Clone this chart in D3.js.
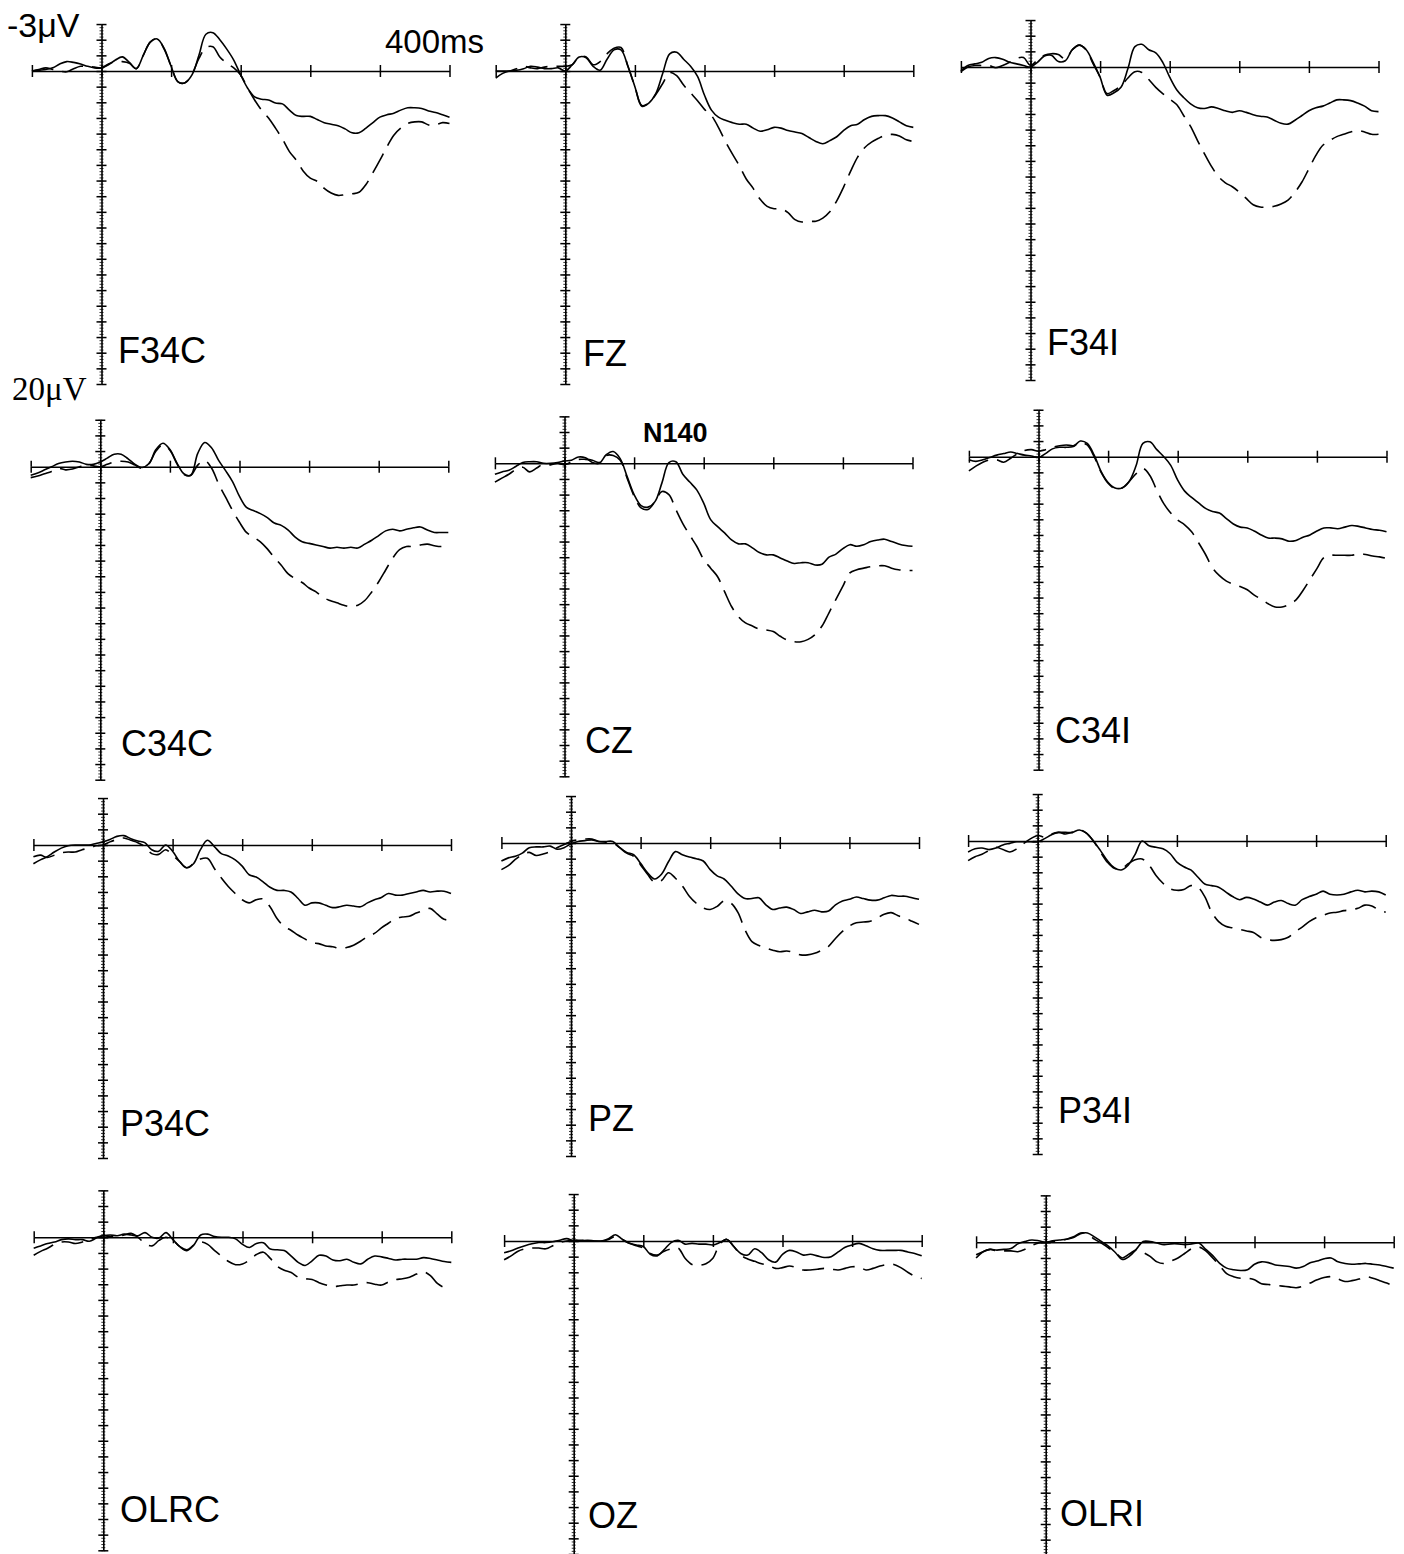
<!DOCTYPE html>
<html><head><meta charset="utf-8">
<script src="https://cdn.jsdelivr.net/npm/d3@7"></script>
<style>body{margin:0;background:#fff} svg{display:block}</style>
</head><body>
<svg id="c" width="1404" height="1554"></svg>
<script>
// ---- data ----
const times = d3.range(-100, 501, 10); // ms
const channels = ["F34C","FZ","F34I","C34C","CZ","C34I","P34C","PZ","P34I","OLRC","OZ","OLRI"];
const xTickValues = [-100, 0, 100, 200, 300, 400, 500];
const yDomain = [-3, 20]; // µV, negative up

const F34C_solid = [0,-0.05,-0.1,-0.2,-0.45,-0.6,-0.55,-0.45,-0.3,-0.2,-0.2,-0.4,-0.7,-0.9,-0.55,-0.15,-1.0,-1.85,-2.05,-1.45,-0.3,0.7,0.75,0.25,-1.0,-2.35,-2.45,-2.0,-1.4,-0.7,0.25,1.1,1.65,1.8,1.85,2.05,2.1,2.5,2.85,2.9,2.9,3.1,3.3,3.4,3.5,3.7,3.95,3.95,3.65,3.3,2.95,2.8,2.7,2.5,2.35,2.35,2.4,2.55,2.65,2.8,2.95];
const F34C_dashed = [0,-0.1,-0.2,-0.1,0,0.05,-0.15,-0.3,-0.3,-0.25,-0.2,-0.45,-0.6,-0.6,-0.5,-0.15,-1.0,-1.85,-2.05,-1.4,-0.3,0.7,0.75,0.2,-0.8,-1.5,-1.55,-0.9,-0.5,-0.2,0.25,1.1,1.85,2.5,3.0,3.65,4.35,5.15,5.7,6.4,6.85,7.05,7.5,7.8,7.95,7.9,7.85,7.75,7.25,6.5,5.7,4.85,4.1,3.65,3.35,3.25,3.25,3.45,3.45,3.3,3.35];
const FZ_solid = [0.45,0.15,0,-0.05,-0.15,-0.3,-0.25,-0.15,-0.15,-0.2,0,-0.4,-0.9,-0.85,-0.3,-0.05,-0.75,-1.35,-1.35,-0.3,1.0,2.25,2.05,1.45,0.15,-1.1,-1.2,-0.75,-0.3,0.35,1.55,2.5,2.95,3.15,3.3,3.4,3.4,3.65,3.85,3.75,3.6,3.65,3.8,3.9,4.0,4.25,4.5,4.65,4.45,4.2,3.8,3.5,3.4,3.1,2.9,2.85,2.85,3.0,3.25,3.5,3.6];
const FZ_dashed = [0,0,0,-0.15,-0.3,-0.2,-0.15,-0.25,-0.3,-0.3,-0.3,-0.4,-0.9,-0.9,-0.4,-0.6,-1.1,-1.45,-1.5,-0.3,1.0,2.2,2.05,1.5,0.8,0.1,0.3,0.9,1.4,1.9,2.45,2.85,3.6,4.5,5.3,6.05,6.9,7.5,8.2,8.65,8.8,8.8,9.05,9.5,9.65,9.6,9.6,9.4,9.0,8.3,7.4,6.4,5.5,4.9,4.55,4.3,4.1,4.05,4.15,4.4,4.5];
const F34I_solid = [0.25,-0.1,-0.2,-0.3,-0.55,-0.6,-0.5,-0.3,-0.2,-0.1,0,-0.3,-0.7,-0.75,-0.35,-0.4,-1.1,-1.4,-1.1,-0.3,0.65,1.8,1.65,1.3,0.1,-1.3,-1.45,-1.1,-0.9,-0.3,0.65,1.45,1.95,2.35,2.6,2.65,2.55,2.65,2.8,2.9,2.8,2.9,3.05,3.15,3.2,3.4,3.6,3.65,3.4,3.1,2.8,2.6,2.5,2.3,2.1,2.1,2.15,2.3,2.5,2.8,2.85];
const F34I_dashed = [0.3,0,-0.1,-0.1,-0.1,0.05,-0.1,-0.3,-0.55,-0.6,-0.1,-0.45,-0.75,-0.85,-0.8,-0.5,-1.1,-1.4,-1.1,-0.2,0.65,1.7,1.5,1.2,0.7,0.3,0.35,0.8,1.3,1.7,2.05,2.4,3.1,3.8,4.7,5.55,6.35,7.0,7.4,7.65,8.0,8.4,8.8,8.95,8.95,8.9,8.75,8.5,8.0,7.35,6.5,5.65,5.0,4.7,4.45,4.3,4.15,4.05,4.15,4.3,4.3];
const C34C_solid = [0.55,0.4,0.2,0,-0.2,-0.3,-0.35,-0.3,-0.15,-0.15,-0.3,-0.55,-0.8,-0.8,-0.5,-0.15,0.05,-0.2,-1.1,-1.5,-1.1,-0.25,0.45,0.55,-0.85,-1.55,-1.2,-0.4,0.25,0.95,1.9,2.6,2.8,3.0,3.25,3.6,3.75,4.05,4.5,4.8,4.9,5.0,5.1,5.2,5.15,5.2,5.15,5.2,4.95,4.7,4.4,4.1,4.0,4.1,4.0,3.9,3.85,4.05,4.2,4.2,4.2];
const C34C_dashed = [0.7,0.6,0.45,0.3,0.1,0.2,0.15,0,-0.1,-0.05,0,-0.15,-0.3,-0.35,-0.3,-0.1,0.1,-0.2,-1.0,-1.4,-1.05,-0.2,0.5,0.55,-0.1,-0.4,0.1,1.1,1.95,2.8,3.55,4.2,4.5,4.8,5.25,5.8,6.3,6.85,7.15,7.4,7.75,8.0,8.35,8.55,8.7,8.85,8.95,8.85,8.55,8.0,7.35,6.6,5.85,5.3,5.1,5.1,5.0,4.95,5.05,5.1,5.0];
const CZ_solid = [0.7,0.55,0.45,0.2,-0.05,-0.1,-0.1,0,0,-0.05,-0.15,-0.2,-0.4,-0.35,-0.05,0,-0.55,-0.75,-0.3,0.85,2.0,2.7,2.8,2.45,1.25,-0.05,-0.1,0.7,1.2,1.7,2.55,3.6,4.05,4.45,4.9,5.15,5.15,5.4,5.7,5.85,5.85,6.05,6.25,6.4,6.35,6.35,6.5,6.45,6.0,5.8,5.45,5.2,5.3,5.2,5.0,4.9,4.85,5.0,5.15,5.25,5.3];
const CZ_dashed = [1.2,0.95,0.7,0.4,0.25,0.55,0.3,0.05,0.1,0,0.1,-0.1,-0.25,-0.25,-0.2,-0.05,-0.5,-0.5,-0.2,0.95,2.1,2.85,2.95,2.45,1.8,2.0,2.95,3.85,4.6,5.3,6.15,6.7,7.25,8.2,9.15,9.8,10.2,10.4,10.6,10.65,10.75,11.05,11.3,11.4,11.4,11.25,10.95,10.4,9.55,8.7,7.85,7.0,6.8,6.7,6.6,6.55,6.55,6.7,6.8,6.85,6.85];
const C34I_solid = [0.2,0.3,0.2,0.05,-0.1,-0.2,-0.3,-0.2,-0.1,-0.05,0.05,-0.2,-0.5,-0.6,-0.6,-0.65,-1.0,-0.85,-0.1,0.95,1.65,2.0,2.0,1.6,0.6,-0.85,-0.95,-0.45,0,0.55,1.5,2.2,2.6,2.95,3.3,3.5,3.6,3.95,4.3,4.5,4.55,4.75,5.0,5.2,5.2,5.25,5.4,5.35,5.15,5.0,4.75,4.55,4.55,4.6,4.5,4.4,4.45,4.55,4.65,4.7,4.8];
const C34I_dashed = [0.9,0.6,0.35,0.2,0.2,0.35,0.1,-0.2,-0.4,-0.45,-0.35,-0.45,-0.6,-0.7,-0.75,-0.7,-0.9,-0.75,0,1.0,1.7,2.05,2.0,1.6,1.1,0.75,1.2,2.15,3.0,3.6,4.05,4.35,4.8,5.5,6.25,7.1,7.6,7.95,8.15,8.3,8.5,8.85,9.1,9.4,9.6,9.6,9.45,9.15,8.55,7.85,7.15,6.45,6.3,6.3,6.3,6.3,6.2,6.25,6.35,6.4,6.5];
const P34C_solid = [1.2,0.95,0.75,0.45,0.2,0.05,0,0,0,-0.1,-0.2,-0.35,-0.55,-0.6,-0.4,-0.25,-0.15,0.3,0.4,0,0.4,1.05,1.45,1.2,0.3,-0.3,0.1,0.55,0.7,0.95,1.35,1.9,2.05,2.35,2.7,2.9,2.9,3.0,3.4,3.85,3.7,3.7,3.85,4.0,3.95,3.85,3.9,3.95,3.7,3.5,3.35,3.1,3.2,3.2,3.1,3.0,2.9,3.0,2.95,2.95,3.1];
const P34C_dashed = [0.75,0.65,0.8,0.65,0.5,0.45,0.45,0.3,0.2,0.05,0,-0.2,-0.35,-0.45,-0.3,-0.15,0.1,0.55,0.6,0.3,0.65,1.05,1.45,1.2,0.9,0.85,1.5,2.1,2.65,3.1,3.5,3.7,3.5,3.45,3.95,4.7,5.2,5.45,5.75,6.0,6.25,6.3,6.45,6.5,6.6,6.55,6.4,6.15,5.85,5.65,5.3,5.0,4.7,4.6,4.55,4.35,4.2,4.05,4.4,4.75,4.8];
const PZ_solid = [1.15,0.95,0.85,0.65,0.3,0.25,0.25,0.2,0.4,0.3,0.05,-0.1,-0.15,-0.2,-0.1,-0.1,-0.1,0.3,0.6,0.75,1.3,1.9,2.3,2.0,1.2,0.55,0.75,0.9,1.0,1.15,1.7,2.1,2.3,2.75,3.25,3.55,3.55,3.5,3.95,4.25,4.15,4.1,4.25,4.5,4.4,4.3,4.4,4.35,3.95,3.7,3.6,3.45,3.55,3.65,3.65,3.5,3.35,3.4,3.4,3.5,3.6];
const PZ_dashed = [1.7,1.45,1.05,0.75,0.6,0.8,0.7,0.55,0.3,0.1,-0.1,-0.2,-0.25,-0.25,-0.1,-0.05,0,0.3,0.65,0.85,1.4,2.0,2.5,2.4,1.9,2.25,2.75,3.4,3.85,4.15,4.25,4.05,3.7,3.85,4.45,5.55,6.3,6.55,6.7,6.85,6.95,6.9,7.0,7.15,7.15,7.05,6.85,6.6,6.1,5.65,5.3,5.1,5.05,5.0,4.8,4.55,4.45,4.65,4.8,5.0,5.2];
const P34I_solid = [0.7,0.5,0.45,0.55,0.45,0.25,0.15,0.05,0.05,0.05,0.05,-0.15,-0.4,-0.55,-0.45,-0.55,-0.7,-0.5,0,0.6,1.25,1.7,1.85,1.55,0.85,0,0.3,0.4,0.5,0.8,1.35,1.65,1.85,2.3,2.75,2.85,2.95,3.25,3.55,3.75,3.6,3.7,3.9,4.1,3.9,3.8,4.0,4.1,3.75,3.55,3.4,3.2,3.4,3.45,3.4,3.25,3.15,3.25,3.2,3.25,3.45];
const P34I_dashed = [1.25,1.0,0.85,0.6,0.4,0.55,0.7,0.5,0.15,-0.15,-0.35,-0.25,-0.45,-0.55,-0.55,-0.55,-0.7,-0.5,0,0.7,1.35,1.75,1.8,1.45,1.2,1.15,1.55,2.2,2.7,3.05,3.15,3.1,2.85,2.95,3.55,4.55,5.15,5.45,5.55,5.65,5.75,5.85,6.15,6.3,6.35,6.3,6.15,5.8,5.5,5.15,4.9,4.75,4.6,4.55,4.45,4.4,4.3,4.1,4.15,4.4,4.55];
const OLRC_solid = [0.7,0.55,0.4,0.3,0.15,0.1,0.15,0.15,0.25,0.05,-0.1,-0.15,-0.1,-0.2,-0.15,-0.1,-0.3,0,0.05,-0.3,0.15,0.6,0.85,0.5,-0.15,-0.2,-0.05,0,0,0.1,0.45,0.65,0.4,0.35,0.75,0.8,0.85,1.2,1.6,1.8,1.5,1.15,1.2,1.45,1.5,1.4,1.6,1.7,1.4,1.2,1.25,1.35,1.45,1.4,1.4,1.4,1.3,1.35,1.45,1.55,1.6];
const OLRC_dashed = [1.15,0.9,0.7,0.45,0.3,0.3,0.4,0.3,0.15,0,-0.1,-0.05,-0.05,-0.15,-0.25,0,0.4,0.55,0.2,0,0.2,0.6,0.8,0.5,0.3,0.45,0.85,1.2,1.55,1.75,1.7,1.45,1.1,0.95,1.35,1.85,2.1,2.25,2.55,2.65,2.7,2.9,3.05,3.15,3.1,3.05,3.05,2.95,2.9,3.0,3.05,2.85,2.7,2.65,2.55,2.35,2.2,2.45,2.95,3.2,3.2];
const OZ_solid = [0.75,0.62,0.45,0.3,0.18,0.1,0.1,0.05,-0.05,-0.15,0,0,-0.05,0,0,-0.15,-0.4,-0.1,0.15,0.25,0.35,0.85,0.95,0.55,0.1,-0.05,0.2,0.15,0.2,0.2,0.25,0.1,-0.1,0.35,0.8,0.9,0.5,0.75,1.2,1.35,0.85,0.6,0.7,0.9,0.85,0.95,1.05,1.0,0.7,0.4,0.25,0.15,0.3,0.5,0.6,0.6,0.6,0.6,0.7,0.8,0.95];
const OZ_dashed = [1.2,0.95,0.65,0.5,0.45,0.45,0.5,0.3,0.1,0,-0.05,-0.05,-0.05,0,0,-0.1,-0.3,-0.1,0.15,0.3,0.45,0.8,0.9,0.65,0.5,0.45,1.1,1.5,1.55,1.45,1.1,0.2,-0.1,0.35,0.9,1.15,1.3,1.45,1.55,1.75,1.7,1.6,1.7,1.85,1.85,1.8,1.75,1.8,1.85,1.75,1.65,1.65,1.85,1.75,1.6,1.5,1.5,1.7,2.0,2.25,2.4];
const OLRI_solid = [0.8,0.6,0.45,0.5,0.45,0.4,0.1,-0.05,-0.15,-0.1,0,-0.1,-0.15,-0.2,-0.3,-0.55,-0.6,-0.35,-0.05,0.25,0.65,1.1,0.9,0.45,-0.05,-0.05,0.05,0.15,0.1,0.1,0.15,0.1,0.05,0.45,0.85,1.35,1.65,1.75,1.8,1.75,1.4,1.25,1.3,1.45,1.5,1.55,1.65,1.55,1.3,1.2,1.05,1.0,1.25,1.35,1.4,1.38,1.35,1.4,1.45,1.55,1.65];
const OLRI_dashed = [1.0,0.6,0.45,0.55,0.55,0.55,0.6,0.45,0.2,0.05,0,-0.05,-0.1,-0.2,-0.35,-0.6,-0.55,-0.2,0.05,0.35,0.65,1.0,0.75,0.5,0.65,0.9,1.25,1.35,1.2,1.0,0.7,0.4,0.3,0.55,1.0,1.5,2.0,2.2,2.3,2.3,2.4,2.65,2.7,2.75,2.8,2.85,2.9,2.8,2.6,2.4,2.25,2.2,2.35,2.5,2.45,2.35,2.2,2.3,2.45,2.6,2.8];

const seriesByChannel = {
  F34C: [F34C_solid, F34C_dashed], FZ: [FZ_solid, FZ_dashed], F34I: [F34I_solid, F34I_dashed],
  C34C: [C34C_solid, C34C_dashed], CZ: [CZ_solid, CZ_dashed], C34I: [C34I_solid, C34I_dashed],
  P34C: [P34C_solid, P34C_dashed], PZ: [PZ_solid, PZ_dashed], P34I: [P34I_solid, P34I_dashed],
  OLRC: [OLRC_solid, OLRC_dashed], OZ: [OZ_solid, OZ_dashed], OLRI: [OLRI_solid, OLRI_dashed]
};

// ---- layout (pixel position of t=0 / 0 µV for each panel) ----
const layout = {
  F34C: {x0: 101.5, y0: 71,    lx: 118,  ly: 363},
  FZ:   {x0: 565.3, y0: 71,    lx: 583,  ly: 366},
  F34I: {x0: 1030.5,y0: 67,    lx: 1047, ly: 355},
  C34C: {x0: 100.3, y0: 466.7, lx: 121,  ly: 756},
  CZ:   {x0: 564.5, y0: 463.3, lx: 585,  ly: 753},
  C34I: {x0: 1038.5,y0: 456.7, lx: 1055, ly: 743},
  P34C: {x0: 103,   y0: 845,   lx: 120,  ly: 1136},
  PZ:   {x0: 571,   y0: 843,   lx: 588,  ly: 1131},
  P34I: {x0: 1037.7,y0: 841,   lx: 1058, ly: 1123},
  OLRC: {x0: 103.3, y0: 1237.3,lx: 120,  ly: 1522},
  OZ:   {x0: 573.7, y0: 1241,  lx: 588,  ly: 1528},
  OLRI: {x0: 1045.7,y0: 1242.3,lx: 1060, ly: 1526}
};
const PX_PER_MS = 0.696, PX_PER_UV = 15.65;

const svg = d3.select("#c");
svg.append("rect").attr("width",1404).attr("height",1554).attr("fill","#fff");

function styleAxis(sel){
  sel.selectAll("path.domain").attr("stroke","#000").attr("stroke-width",1.6);
  sel.selectAll(".tick line").attr("stroke","#000").attr("stroke-width",1.5);
}

channels.forEach(ch => {
  const L = layout[ch];
  const x = d3.scaleLinear().domain([-100, 500]).range([L.x0 - 100*PX_PER_MS, L.x0 + 500*PX_PER_MS]);
  const y = d3.scaleLinear().domain(yDomain).range([L.y0 + yDomain[0]*PX_PER_UV, L.y0 + yDomain[1]*PX_PER_UV]);
  const g = svg.append("g");

  // horizontal time axis (ticks both sides)
  const gx1 = g.append("g").attr("transform", `translate(0,${y(0)})`)
    .call(d3.axisBottom(x).tickValues(xTickValues).tickSize(6).tickSizeOuter(0).tickFormat(""));
  const gx2 = g.append("g").attr("transform", `translate(0,${y(0)})`)
    .call(d3.axisTop(x).tickValues(xTickValues).tickSize(6).tickSizeOuter(0).tickFormat(""));
  gx2.select(".domain").remove();
  styleAxis(gx1); styleAxis(gx2);

  // vertical voltage axis: major + minor ticks both sides
  const major = d3.range(yDomain[0], yDomain[1] + 0.001, 1);
  const minor = d3.range(yDomain[0], yDomain[1] + 0.001, 0.2);
  const gy1 = g.append("g").attr("transform", `translate(${x(0)},0)`)
    .call(d3.axisLeft(y).tickValues(major).tickSize(5).tickSizeOuter(0).tickFormat(""));
  const gy2 = g.append("g").attr("transform", `translate(${x(0)},0)`)
    .call(d3.axisRight(y).tickValues(major).tickSize(5).tickSizeOuter(0).tickFormat(""));
  gy2.select(".domain").remove();
  const gy3 = g.append("g").attr("transform", `translate(${x(0)},0)`)
    .call(d3.axisLeft(y).tickValues(minor).tickSize(2).tickSizeOuter(0).tickFormat(""));
  const gy4 = g.append("g").attr("transform", `translate(${x(0)},0)`)
    .call(d3.axisRight(y).tickValues(minor).tickSize(2).tickSizeOuter(0).tickFormat(""));
  gy3.select(".domain").remove(); gy4.select(".domain").remove();
  styleAxis(gy1); styleAxis(gy2);
  gy3.selectAll(".tick line").attr("stroke","#000").attr("stroke-width",0.8);
  gy4.selectAll(".tick line").attr("stroke","#000").attr("stroke-width",0.8);

  const line = d3.line().x((d,i) => x(times[i])).y(d => y(d)).curve(d3.curveCatmullRom.alpha(0.5));
  const [solid, dashed] = seriesByChannel[ch];
  g.append("path").datum(dashed).attr("d", line).attr("fill","none").attr("stroke","#000")
    .attr("stroke-width",1.6).attr("stroke-dasharray","22,9");
  g.append("path").datum(solid).attr("d", line).attr("fill","none").attr("stroke","#000")
    .attr("stroke-width",1.6);

  g.append("text").attr("x", L.lx).attr("y", L.ly).text(ch)
    .attr("font-family","Liberation Sans, Arial, sans-serif").attr("font-size",36).attr("fill","#000");
});

// annotations
svg.append("text").attr("x",7).attr("y",37).text("-3\u03bcV")
  .attr("font-family","Liberation Sans, Arial, sans-serif").attr("font-size",34).attr("fill","#000");
svg.append("text").attr("x",12).attr("y",400).text("20\u03bcV")
  .attr("font-family","Liberation Serif, Times New Roman, serif").attr("font-size",33).attr("fill","#000");
svg.append("text").attr("x",385).attr("y",53).text("400ms")
  .attr("font-family","Liberation Sans, Arial, sans-serif").attr("font-size",33).attr("fill","#000");
svg.append("text").attr("x",643).attr("y",442).text("N140")
  .attr("font-family","Liberation Sans, Arial, sans-serif").attr("font-weight","bold").attr("font-size",27).attr("fill","#000");
</script>
</body></html>
